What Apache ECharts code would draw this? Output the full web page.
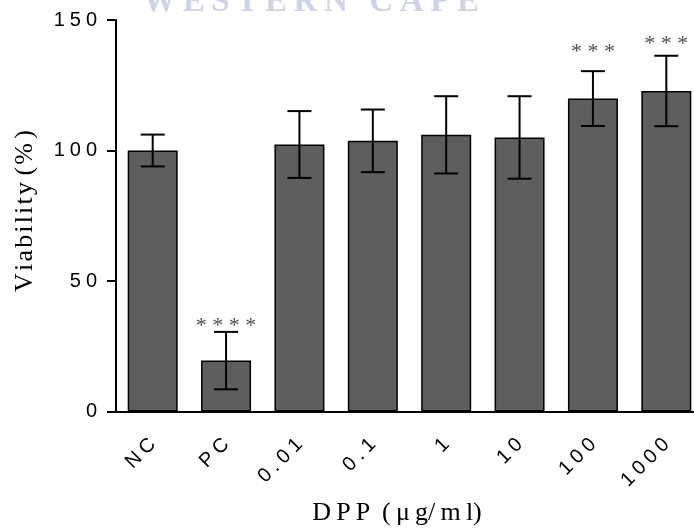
<!DOCTYPE html>
<html>
<head>
<meta charset="utf-8">
<script src="https://cdn.jsdelivr.net/npm/echarts@6/dist/echarts.min.js"></script>
<style>
html,body{margin:0;padding:0;background:#fff;}
#chart{width:694px;height:529px;}
</style>
</head>
<body>
<div id="chart"></div>
<script>
var categories = ['NC', 'PC', '0.01', '0.1', '1', '10', '100', '1000'];
var viability = [100, 19.5, 102.3, 103.7, 106, 105, 119.9, 122.8];
var sdValues = [6.1, 11, 12.8, 12, 14.8, 15.8, 10.5, 13.5];
var starLabels = ['', '****', '', '', '', '', '***', '***'];
var starHeights = [null, 32.5, null, null, null, null, 137.5, 140.6];
var yTicks = [0, 50, 100, 150];

// no letterSpacing in echarts text, so pad with narrow spaces
function spaced(s, sp) {
    return String(s).split('').join(sp);
}

var errData = [];
for (var i = 0; i < categories.length; i++) {
    errData.push([i, viability[i] - sdValues[i], viability[i] + sdValues[i]]);
}
var starData = [];
for (var j = 0; j < categories.length; j++) {
    if (starHeights[j] != null) {
        starData.push({value: [j, starHeights[j]], label: {formatter: spaced(starLabels[j], '\u2005')}});
    }
}

var myChart = echarts.init(document.getElementById('chart'));
var option = {
    animation: false,
    backgroundColor: '#fff',
    grid: {left: 116, right: -9, top: 20, bottom: 117.5, outerBoundsMode: 'none'},
    graphic: [
        {
            type: 'text',
            style: {
                x: 311, y: 19, text: spaced('WESTERN CAPE', '\u2009'),
                font: 'bold 33px "Liberation Serif"', fill: '#cfd3e5',
                textAlign: 'center', textVerticalAlign: 'bottom'
            }
        },
        {
            type: 'text',
            style: {
                x: 0, y: 0, text: 'V\u200Ai\u200Aa\u200Ab\u200Ai\u200Al\u200Ai\u200At\u200Ay (\u200A%\u200A\u200A)',
                font: '26px "Liberation Serif"', fill: '#000',
                textAlign: 'center', textVerticalAlign: 'middle'
            },
            x: 25, y: 211, rotation: Math.PI / 2
        },
        {
            type: 'text',
            style: {
                x: 397, y: 513, text: 'D\u2009P\u2009P\u2009 (\u2009μ\u2009g/\u2009m\u2009l)',
                font: '26px "Liberation Serif"', fill: '#000',
                textAlign: 'center', textVerticalAlign: 'middle'
            }
        }
    ],
    xAxis: {
        type: 'category',
        data: categories,
        axisLine: {lineStyle: {color: '#000', width: 2}},
        axisTick: {alignWithLabel: true, length: 10, lineStyle: {color: '#000', width: 2}},
        axisLabel: {
            rotate: 45, margin: 30, color: '#000', fontSize: 20,
            fontFamily: 'Liberation Sans', interval: 0,
            formatter: function (v) { return spaced(v, '\u2005'); }
        }
    },
    yAxis: {
        type: 'value', min: yTicks[0], max: yTicks[yTicks.length - 1], interval: 50,
        splitLine: {show: false},
        axisLine: {show: true, lineStyle: {color: '#000', width: 2}},
        axisTick: {show: true, length: 9, lineStyle: {color: '#000', width: 2}},
        axisLabel: {
            margin: 19, color: '#000', fontSize: 20, fontFamily: 'Liberation Sans',
            formatter: function (v) { return spaced(v, '\u2005'); }
        }
    },
    series: [
        {
            type: 'bar',
            data: viability,
            barWidth: 50,
            itemStyle: {color: '#5e5e5e', borderColor: '#000', borderWidth: 1.5}
        },
        {
            type: 'custom',
            data: errData,
            z: 5,
            renderItem: function (params, api) {
                var lo = api.coord([api.value(0), api.value(1)]);
                var hi = api.coord([api.value(0), api.value(2)]);
                var hw = 12;
                var st = {stroke: '#000', lineWidth: 2};
                return {
                    type: 'group',
                    children: [
                        {type: 'line', shape: {x1: lo[0], y1: lo[1], x2: hi[0], y2: hi[1]}, style: st},
                        {type: 'line', shape: {x1: lo[0] - hw, y1: lo[1], x2: lo[0] + hw, y2: lo[1]}, style: st},
                        {type: 'line', shape: {x1: hi[0] - hw, y1: hi[1], x2: hi[0] + hw, y2: hi[1]}, style: st}
                    ]
                };
            }
        },
        {
            type: 'scatter',
            data: starData,
            symbolSize: 0,
            z: 6,
            label: {
                show: true, position: 'inside', color: '#222',
                fontSize: 22, fontFamily: 'Liberation Serif'
            }
        }
    ]
};
myChart.setOption(option, true);
</script>
</body>
</html>
